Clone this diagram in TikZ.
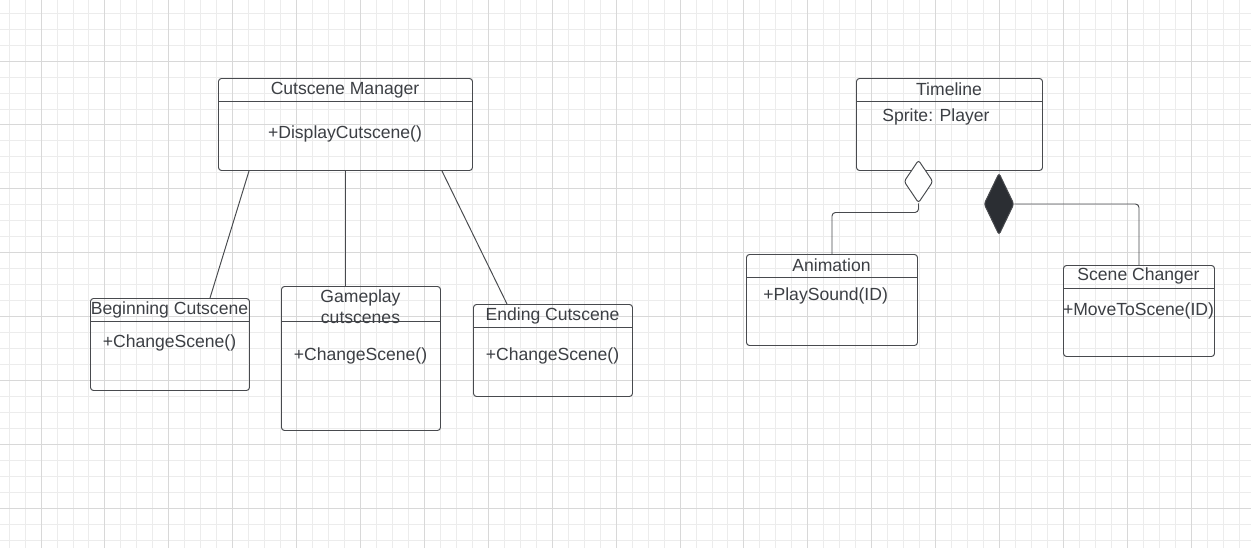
\documentclass[tikz,border=0pt]{standalone}
\usepackage{fontspec}
\setmainfont{Liberation Sans}
\usetikzlibrary{shapes.geometric}
\definecolor{ink}{HTML}{3C3F44}
\definecolor{edge}{HTML}{484A4E}
\definecolor{solid}{HTML}{2B2E33}
\definecolor{minorg}{HTML}{ECECEC}
\definecolor{majorg}{HTML}{D8D8D8}
\newcommand{\px}{0.02cm}

\begin{document}
\begin{tikzpicture}[x=0.02cm, y=-0.02cm,
    cls/.style = {draw=edge, line width=0.55pt, rounded corners=1.7pt, inner sep=0pt, anchor=north west},
    lbl/.style = {text=ink, font=\fontsize{10}{12}\selectfont, inner sep=0pt},
    link/.style = {draw=edge, line width=0.55pt},
    gem/.style = {diamond, draw=edge, line width=0.55pt, rounded corners=1.5pt, inner sep=0pt}]

    \useasboundingbox (0,0) rectangle (1251,548);
    \fill[white] (0,0) rectangle (1251,548);

    % grid
    \foreach \i in {0,...,78}
        \draw[minorg, line width=0.5pt] ({9.05+\i*15.975},0) -- ++(0,548);
    \foreach \j in {0,...,33}
        \draw[minorg, line width=0.5pt] (0,{13.1+\j*15.975}) -- ++(1251,0);
    \foreach \i in {0,...,19}
        \draw[majorg, line width=0.5pt] ({41+\i*63.9},0) -- ++(0,548);
    \foreach \j in {0,...,8}
        \draw[majorg, line width=0.5pt] (0,{61+\j*63.9}) -- ++(1251,0);

    % left diagram
    \node[cls, minimum width=254*\px, minimum height=92*\px] (cm) at (218,78) {};
    \node[cls, minimum width=159*\px, minimum height=92*\px] (beg) at (90,298) {};
    \node[cls, minimum width=159*\px, minimum height=144*\px] (gp) at (281,286) {};
    \node[cls, minimum width=159*\px, minimum height=92*\px] (end) at (473,304) {};

    % right diagram
    \node[cls, minimum width=186*\px, minimum height=92*\px] (tl) at (856,78) {};
    \node[cls, minimum width=171*\px, minimum height=91*\px] (anim) at (746,254) {};
    \node[cls, minimum width=151*\px, minimum height=91*\px] (scn) at (1063,265) {};

    % header lines
    \foreach \n/\d in {cm/23, beg/23, gp/35, end/23, tl/23, anim/23, scn/23}
        \draw[link] ([yshift=-\d*\px]\n.north west) -- ([yshift=-\d*\px]\n.north east);

    \node[lbl] (cmT) at (345,90) {Cutscene Manager};
    \node[lbl] (cmM) at (345,134) {+DisplayCutscene()};
    \node[lbl] (begT) at (169.5,310) {Beginning Cutscene};
    \node[lbl] (begM) at (169.5,343) {+ChangeScene()};
    \node[lbl, align=center] (gpT) at (360.5,306.5) {Gameplay\\cutscenes};
    \node[lbl] (gpM) at (360.5,356) {+ChangeScene()};
    \node[lbl] (endT) at (552.5,316) {Ending Cutscene};
    \node[lbl] (endM) at (552.5,356) {+ChangeScene()};

    \node[lbl] (tlT) at (949,89) {Timeline};
    \node[lbl, anchor=west] (tlA) at (882,117) {Sprite: Player};
    \node[lbl] (animT) at (831.5,265) {Animation};
    \node[lbl, anchor=west] (animM) at (763,296) {+PlaySound(ID)};
    \node[lbl] (scnT) at (1138.5,276) {Scene Changer};
    \node[lbl] (scnM) at (1138.5,311) {+MoveToScene(ID)};

    \draw[link] ([xshift=31*\px]cm.south west) -- ([xshift=120*\px]beg.north west);
    \draw[link] (cm.south) -- (cm.south |- gp.north);
    \draw[link] ([xshift=-31*\px]cm.south east) -- ([xshift=34*\px]end.north west);

    \node[gem, fill=white, minimum width=29*\px, minimum height=43*\px] (agg) at (918.5,181.5) {};
    \node[gem, fill=solid, minimum width=30*\px, minimum height=62*\px] (comp) at (999,204) {};

    \draw[link, rounded corners=2pt] (agg.south) -- ++(0,9) -| (anim.north);
    \draw[link, rounded corners=2pt] (comp.east) -| (scn.north);

\end{tikzpicture}
\end{document}
